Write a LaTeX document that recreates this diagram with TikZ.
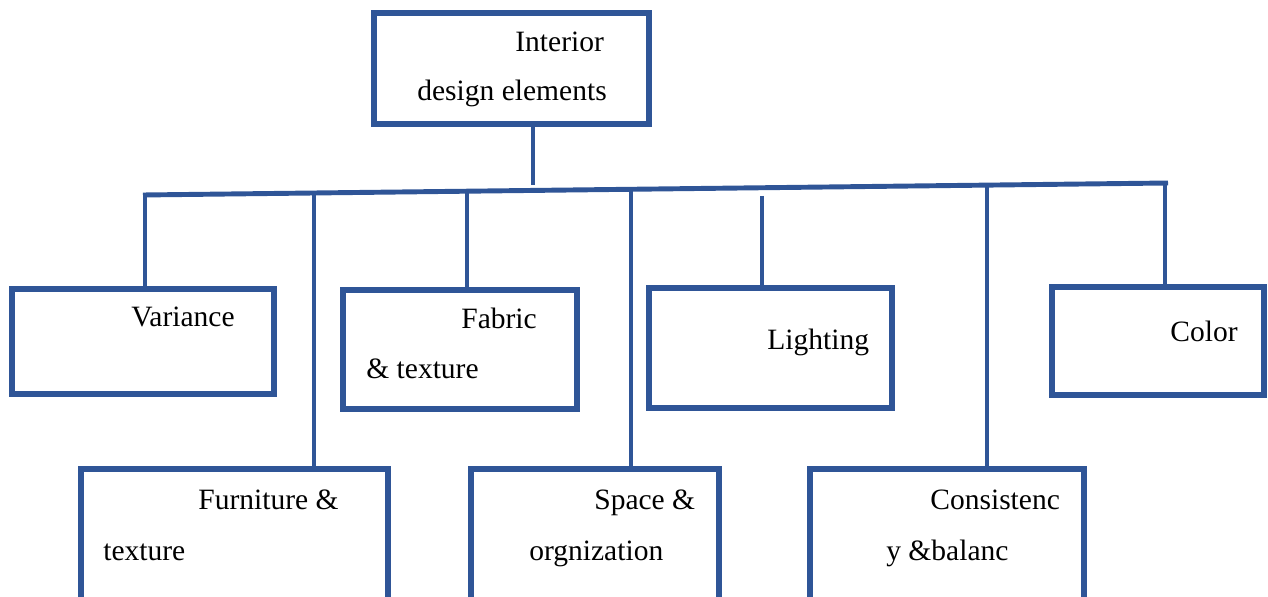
\documentclass[tikz,border=0pt]{standalone}
\usepackage{fontspec}
\setmainfont{Liberation Serif}
\newfontfamily\boxfont{Liberation Serif}
\usetikzlibrary{positioning}
\definecolor{boxblue}{RGB}{47,85,151}

\begin{document}
\begin{tikzpicture}[x=0.02cm,y=-0.02cm,
    box/.style={draw=boxblue,line width=3.4pt,inner sep=0pt},
    txt/.style={inner sep=0pt,anchor=base west,font=\boxfont\fontsize{16.8}{20}\selectfont},
    link/.style={draw=boxblue,line width=2.8pt}] % pixel grid, y down
\clip (0,0) rectangle (1268,597);

% boxes
\node (top) [box,minimum width=5.5cm,minimum height=2.22cm] at (511.5,68.5) {};
\node (var) [box,minimum width=5.24cm,minimum height=2.1cm] at (143,341.5) {};
\node (fab) [box,minimum width=4.68cm,minimum height=2.38cm] at (460,349.5) {};
\node (lig) [box,minimum width=4.86cm,minimum height=2.4cm] at (770.5,348) {};
\node (col) [box,minimum width=4.24cm,minimum height=2.16cm] at (1158,341) {};
\node (fur) [box,minimum width=6.14cm,minimum height=3.82cm] at (234.5,564.5) {};
\node (spa) [box,minimum width=4.96cm,minimum height=3.82cm] at (595,564.5) {};
\node (con) [box,minimum width=5.48cm,minimum height=3.82cm] at (947,564.5) {};

% texts
\node (t1) [txt] at (515,52)  {Interior};
\node (t2) [txt] at (417,101) {design elements};
\node (t3) [txt] at (131,327) {Variance};
\node (t4) [txt] at (461,329) {Fabric};
\node (t5) [txt] at (366,379) {\& texture};
\node (t6) [txt] at (767,350) {Lighting};
\node (t7) [txt] at (1170,342) {Color};
\node (t8) [txt] at (198,510) {Furniture \&};
\node (t9) [txt] at (103,561) {texture};
\node (t10) [txt] at (594,510) {Space \&};
\node (t11) [txt] at (529,561) {orgnization};
\node (t12) [txt] at (930,510) {Consistenc};
\node (t13) [txt] at (886,561) {y \&balanc};

% bar and drops
\coordinate (stem) at (533,185);
\coordinate (L) at (143,195);
\coordinate (R) at (1168,183);
\coordinate (c1) at (145,195);
\coordinate (c2) at (314,193);
\coordinate (c3) at (467,191.2);
\coordinate (c4) at (631,189.3);
\coordinate (c5) at (762,196);
\coordinate (c6) at (987,185.1);
\coordinate (c7) at (1165,183);

\draw[link] (stem |- top.south) -- (stem);
\draw[link] (L) -- (R);
\draw[link] (c1) -- (c1 |- var.north);
\draw[link] (c2) -- (c2 |- fur.north);
\draw[link] (c3) -- (c3 |- fab.north);
\draw[link] (c4) -- (c4 |- spa.north);
\draw[link] (c5) -- (c5 |- lig.north);
\draw[link] (c6) -- (c6 |- con.north);
\draw[link] (c7) -- (c7 |- col.north);

\end{tikzpicture}
\end{document}
